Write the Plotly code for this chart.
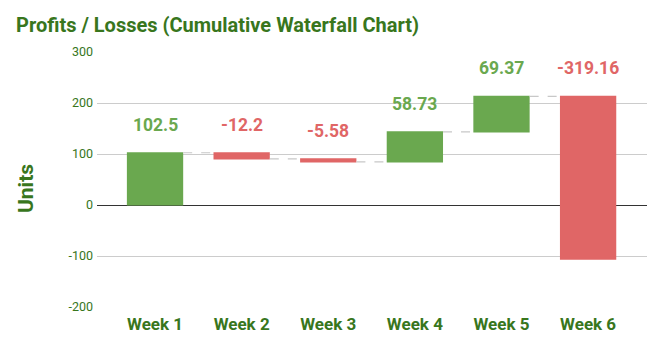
import plotly.graph_objects as go

categories = ["Week 1", "Week 2", "Week 3", "Week 4", "Week 5", "Week 6"]
changes = [102.5, -12.2, -5.58, 58.73, 69.37, -319.16]
labels = ["102.5", "-12.2", "-5.58", "58.73", "69.37", "-319.16"]
tick_vals = [-200, -100, 0, 100, 200, 300]
tick_text = ["-200", "-100", "0", "100", "200", "300"]

GREEN = "#6aa84f"
RED = "#e06666"
DARK_GREEN = "#38761d"
FONT = "Roboto"

fig = go.Figure()
fig.add_trace(go.Waterfall(
    x=categories,
    y=changes,
    measure=["relative"] * len(changes),
    increasing=dict(marker=dict(color=GREEN)),
    decreasing=dict(marker=dict(color=RED)),
    connector=dict(line=dict(color="#c8c8c8", width=1.2, dash="dash"), mode="between"),
    textposition="none",
    hoverinfo="skip",
))

# labels above the top of each bar
running = 0
annotations = []
for cat, ch, lab in zip(categories, changes, labels):
    start = running
    end = running + ch
    running = end
    top = max(start, end)
    annotations.append(dict(
        x=cat, y=top, xref="x", yref="y", text=f"<b>{lab}</b>", showarrow=False,
        yanchor="middle", yshift=28,
        font=dict(family=FONT, size=17.5, color=GREEN if ch >= 0 else RED),
    ))

annotations.append(dict(
    x=(26 - 97) / (659 - 97 - 12), y=(347 - 40 - 189) / (347 - 52 - 40),
    xref="paper", yref="paper", text="<b>Units</b>", showarrow=False,
    textangle=-90, xanchor="center", yanchor="middle",
    font=dict(family=FONT, size=21, color=DARK_GREEN),
))

fig.update_layout(
    width=659, height=347,
    margin=dict(l=97, r=12, t=52, b=40),
    paper_bgcolor="white", plot_bgcolor="white",
    showlegend=False,
    waterfallgap=0.35,
    title=dict(text="<b>Profits / Losses (Cumulative Waterfall Chart)</b>",
               x=16 / 659, xanchor="left", y=1 - 25 / 347, yanchor="middle",
               font=dict(family=FONT, size=20, color=DARK_GREEN)),
    font=dict(family=FONT),
    xaxis=dict(range=[-0.67, 5.68], showgrid=False, showline=False, ticks="",
               tickfont=dict(family=FONT, size=17, color=DARK_GREEN),
               tickprefix="<b>", ticksuffix="</b>", ticklabelstandoff=5, fixedrange=True),
    yaxis=dict(range=[-200, 300], tickvals=tick_vals, ticktext=tick_text,
               showgrid=True, gridcolor="#cccccc",
               gridwidth=1, zeroline=True, zerolinecolor="#333333", zerolinewidth=1,
               showline=False, ticks="", tickfont=dict(family=FONT, size=12.5, color=DARK_GREEN),
               tickprefix="<b>", ticksuffix="</b>", ticklabelstandoff=3),
    annotations=annotations,
)

fig.write_html("out.html")
